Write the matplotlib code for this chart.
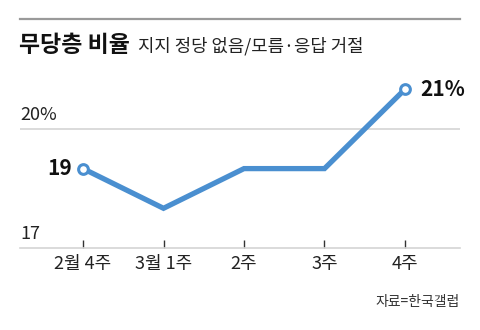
import matplotlib
matplotlib.use("Agg")
import matplotlib.pyplot as plt
from matplotlib.lines import Line2D

plt.rcParams['font.family'] = ['Liberation Sans Narrow', 'Noto Sans CJK KR', 'DejaVu Sans']

weeks = ['2월 4주', '3월 1주', '2주', '3주', '4주']
share = [19, 18, 19, 19, 21]
y_ticks = [17, 20]
y_tick_labels = ['17', '20%']

W, H = 480, 330
fig = plt.figure(figsize=(W / 100, H / 100), dpi=100)

def fx(px):
    return px / W

def fy(py):
    return 1 - py / H

# plot area: x from 20 to 460 px, y from 17 (248 px) to 21 (~89 px)
left, right = 20, 460
bottom_px, top_px = 248, 89.2
ax = fig.add_axes([fx(left), fy(bottom_px), (right - left) / W, (bottom_px - top_px) / H])
ax.set_ylim(17, 21)
xs = list(range(len(weeks)))
# category centers at 83..405 px within a 20..460 px axis
step = (405 - 83) / 4
x0 = -(83 - left) / step
x1 = 4 + (right - 405) / step
ax.set_xlim(x0, x1)
ax.patch.set_alpha(0)
for s in ['top', 'right', 'left']:
    ax.spines[s].set_visible(False)
ax.spines['bottom'].set_color('#d4d4d4')
ax.spines['bottom'].set_linewidth(1.2)
ax.set_yticks([])
ax.set_xticks(xs)
ax.set_xticklabels(weeks, fontsize=13, color='#222222')
ax.tick_params(axis='x', direction='in', length=6, width=1, color='#333333', pad=5)

ax.axhline(20, color='#d4d4d4', lw=1.2, zorder=1)
for v, lab in zip(y_ticks, y_tick_labels):
    ax.text(x0, v + 0.12, lab, fontsize=13, color='#222222', ha='left', va='bottom')

blue = '#4a8fd0'
ax.plot(xs, share, color=blue, lw=3.8, solid_joinstyle='miter', zorder=3, clip_on=False)
ax.plot([xs[0], xs[-1]], [share[0], share[-1]], 'o', ms=7, mfc='white', mec=blue, mew=2.2,
        zorder=4, clip_on=False)

ax.annotate(f'{share[0]}', (xs[0], share[0]), xytext=(-8, 0), textcoords='offset points',
            ha='right', va='center', fontsize=15, fontweight='semibold', color='#111111')
ax.annotate(f'{share[-1]}%', (xs[-1], share[-1]), xytext=(11, 0), textcoords='offset points',
            ha='left', va='center', fontsize=15, fontweight='semibold', color='#111111')

# header rule and titles
fig.add_artist(Line2D([fx(20), fx(460)], [fy(19), fy(19)], color='#9a9a9a', lw=1.6))
fig.text(fx(19), fy(45), '무당층 비율', fontsize=16.5, fontweight='bold', color='#111111',
         ha='left', va='center', family=['Noto Sans CJK KR'])
fig.text(fx(138), fy(46), '지지 정당 없음/모름·응답 거절', fontsize=12.8, color='#222222',
         ha='left', va='center', family=['Noto Sans CJK KR', 'DejaVu Sans'])

fig.text(fx(460), fy(302), '자료=한국갤럽', fontsize=10, color='#333333',
         ha='right', va='center', family=['Noto Sans CJK KR', 'DejaVu Sans'])

fig.savefig('out.png', dpi=100, facecolor='white')
